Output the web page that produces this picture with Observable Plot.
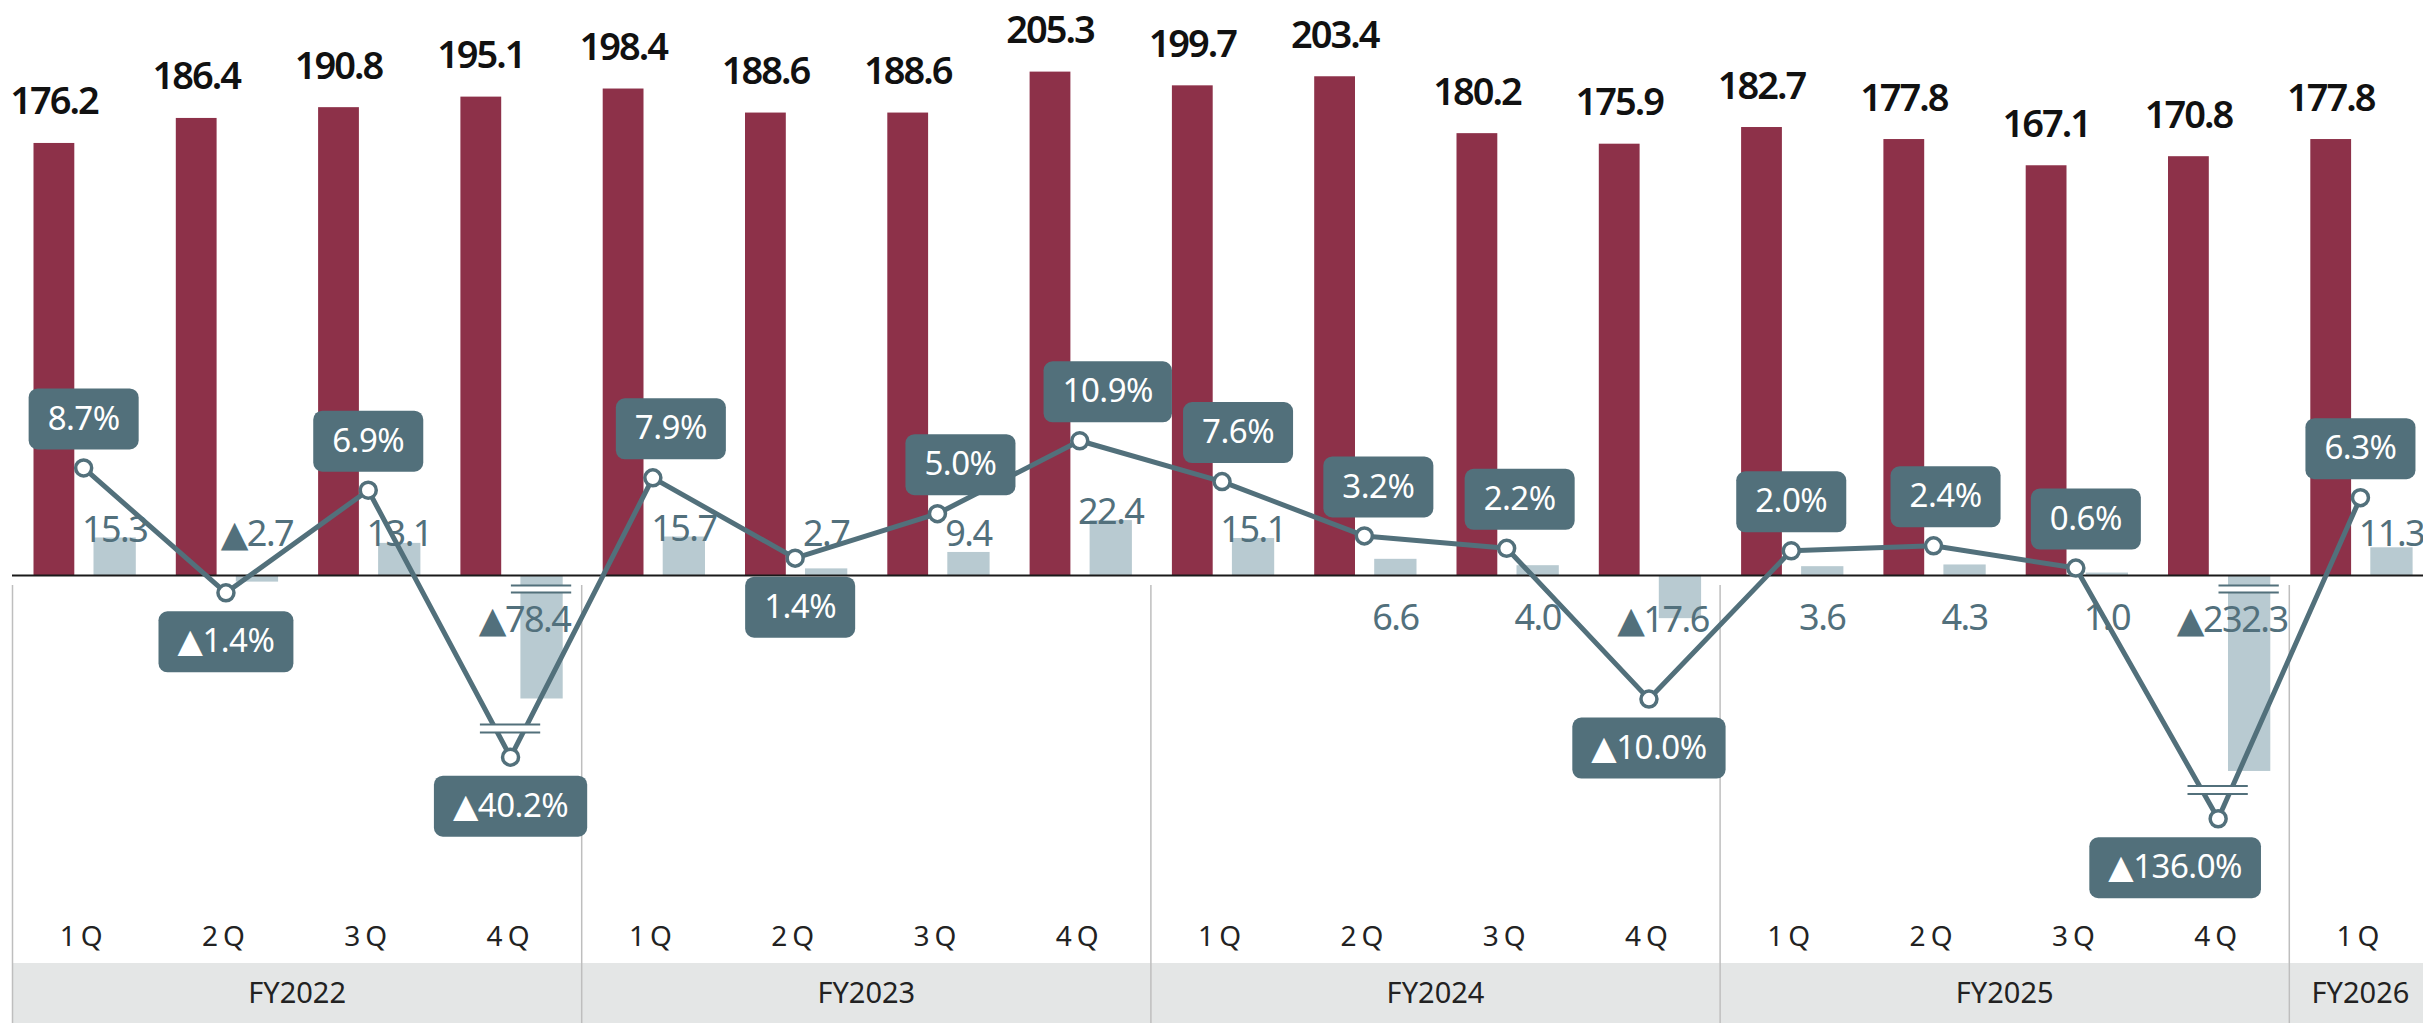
<!DOCTYPE html>
<html>
<head>
<meta charset="utf-8">
<script src="https://cdn.jsdelivr.net/npm/d3@7"></script>
<script src="https://cdn.jsdelivr.net/npm/@observablehq/plot@0.6"></script>
<style>
  html, body { margin: 0; padding: 0; background: #fff; }
  #chart { position: relative; width: 2423px; height: 1023px; overflow: hidden; }
  #chart svg { display: block; max-width: none; }
  #chart svg.overlay { position: absolute; left: 0; top: 0; }
</style>
</head>
<body>
<div id="chart"></div>
<script>
// ---------------- data ----------------
const fiscalYears = ["FY2022","FY2022","FY2022","FY2022","FY2023","FY2023","FY2023","FY2023",
                     "FY2024","FY2024","FY2024","FY2024","FY2025","FY2025","FY2025","FY2025","FY2026"];
const quarterLabels = ["1Q","2Q","3Q","4Q","1Q","2Q","3Q","4Q","1Q","2Q","3Q","4Q","1Q","2Q","3Q","4Q","1Q"];
const revenue = [176.2,186.4,190.8,195.1,198.4,188.6,188.6,205.3,199.7,203.4,180.2,175.9,182.7,177.8,167.1,170.8,177.8];
const operatingProfit = [15.3,-2.7,13.1,-78.4,15.7,2.7,9.4,22.4,15.1,6.6,4.0,-17.6,3.6,4.3,1.0,-232.3,11.3];
const operatingMargin = [8.7,-1.4,6.9,-40.2,7.9,1.4,5.0,10.9,7.6,3.2,2.2,-10.0,2.0,2.4,0.6,-136.0,6.3];
// where the operating-profit value label sits (above the bar / below the zero line)
const profitLabelSide = ["above","above","above","below","above","above","above","above",
                         "above","below","below","below","below","below","below","below","above"];

// ---------------- layout / styling ----------------
// horizontal nudge of the margin label boxes (in px) to keep them clear of the line
const marginBoxNudge = [0,0,0,0,18,5,23,28,16,14,13,0,0,12,10,-43,0];

const W = 2423, H_MAIN = 963, H_BAND = 60;
const RED = "#8D3149", GREY_BAR = "#B8CAD1", SLATE = "#52707B", SEP = "#BEBEBE", BAND = "#E4E6E6";
const INK = "#111111", OP_INK = "#52707c";
const FONT = "'Noto Sans', 'DejaVu Sans', sans-serif";

const rows = revenue.map((r, i) => ({
  i, fy: fiscalYears[i], q: quarterLabels[i], revenue: r,
  op: operatingProfit[i], margin: operatingMargin[i], side: profitLabelSide[i]
}));

// broken-axis compression for very large negative values
const OP_BREAK = -43.7, OP_SQUEEZE = 0.192;
const M_BREAK = -13.3, M_SQUEEZE = 0.052;
const squeeze = (v, b, k) => v >= b ? v : b + (v - b) * k;
const opShown = v => squeeze(v, OP_BREAK, OP_SQUEEZE);
const mShown = v => squeeze(v, M_BREAK, M_SQUEEZE);

const fmt = (v, suffix = "") => (v < 0 ? "▲" : "") + Math.abs(v).toFixed(1) + suffix;

const isLocalMin = d => {
  const prev = d.i > 0 ? operatingMargin[d.i - 1] : Infinity;
  const next = d.i < operatingMargin.length - 1 ? operatingMargin[d.i + 1] : Infinity;
  return d.margin < prev && d.margin < next;
};

const groups = d3.groups(rows, d => d.fy).map(([fy, rs]) => ({
  fy, first: rs[0].i, last: rs[rs.length - 1].i, mid: (rs[0].i + rs[rs.length - 1].i) / 2
}));

const SLOT = 142.3;
const xScale = {type: "linear", domain: [-0.5, 16.5], range: [12, 12 + SLOT * 17], axis: null};
const slotX1 = d => d.i - 0.5, slotX2 = d => d.i + 0.5;
const boxX = d => d.i + marginBoxNudge[d.i] / SLOT;

const brokenOP = rows.filter(d => d.op < OP_BREAK);
const brokenM = rows.filter(d => d.margin < M_BREAK);

// ---------------- main plot (bars) ----------------
const main = Plot.plot({
  width: W, height: H_MAIN, margin: 0,
  x: xScale,
  y: {domain: [0, 200], range: [575, 575 - 200 * 2.452], axis: null},
  style: {background: "white", fontFamily: FONT, overflow: "visible"},
  marks: [
    Plot.ruleX(groups, {x: d => d.first - 0.5, stroke: SEP, strokeWidth: 1.5, insetTop: 585}),
    Plot.rect(rows, {x1: slotX1, x2: slotX2, y1: 0, y2: "revenue", fill: RED, insetLeft: 21.5, insetRight: 80}),
    Plot.rect(rows, {x1: slotX1, x2: slotX2, y1: 0, y2: d => opShown(d.op), fill: GREY_BAR, insetLeft: 81.5, insetRight: 18.5}),
    Plot.ruleY([0], {x1: -0.5, x2: 16.5, stroke: "#1a1a1a", strokeWidth: 2}),
    // break marks on truncated bars
    Plot.rect(brokenOP, {x1: slotX1, x2: slotX2, y1: -4.1, y2: -6.9, fill: "white", insetLeft: 72, insetRight: 10}),
    Plot.ruleY(brokenOP, {x1: slotX1, x2: slotX2, y: () => -4.1, stroke: SLATE, strokeWidth: 2, insetLeft: 72, insetRight: 10}),
    Plot.ruleY(brokenOP, {x1: slotX1, x2: slotX2, y: () => -6.9, stroke: SLATE, strokeWidth: 2, insetLeft: 72, insetRight: 10}),
    // revenue labels
    Plot.text(rows, {x: "i", y: "revenue", text: d => d.revenue.toFixed(1), dx: -29.7, dy: -29,
      lineAnchor: "bottom", fontSize: 38, fontWeight: 600, fill: INK}),
    // operating profit labels
    Plot.text(rows.filter(d => d.side === "above"), {x: "i", y: d => Math.max(d.op - 1.6, 12.2),
      text: d => fmt(d.op), dx: 31, lineAnchor: "bottom", fontSize: 36, fill: OP_INK}),
    Plot.text(rows.filter(d => d.side === "below" && d.op >= 0), {x: "i", y: () => 0,
      text: d => fmt(d.op), dx: 31, dy: 54, lineAnchor: "bottom", fontSize: 36, fill: OP_INK}),
    Plot.text(rows.filter(d => d.side === "below" && d.op < 0), {x: "i", y: () => 0,
      text: d => fmt(d.op), dx: 14, dy: 56, lineAnchor: "bottom", fontSize: 36, fill: OP_INK}),
    // quarter labels
    Plot.text(rows, {x: "i", text: "q", frameAnchor: "bottom", dy: -26, lineAnchor: "middle", fontSize: 28, fill: "#222"})
  ]
});

// ---------------- overlay plot (margin line) ----------------
const overlay = Plot.plot({
  width: W, height: H_MAIN, margin: 0,
  x: xScale,
  y: {domain: [0, 10], range: [575, 575 - 123.6], axis: null},
  style: {background: "transparent", fontFamily: FONT, overflow: "visible"},
  marks: [
    Plot.line(rows, {x: "i", y: d => mShown(d.margin), stroke: SLATE, strokeWidth: 5}),
    Plot.rect(brokenM, {x1: slotX1, x2: slotX2, y1: d => mShown(d.margin) + 2.0, y2: d => mShown(d.margin) + 2.65,
      fill: "white", insetLeft: 41, insetRight: 41}),
    Plot.ruleY(brokenM, {x1: slotX1, x2: slotX2, y: d => mShown(d.margin) + 2.0, stroke: SLATE, strokeWidth: 2, insetLeft: 41, insetRight: 41}),
    Plot.ruleY(brokenM, {x1: slotX1, x2: slotX2, y: d => mShown(d.margin) + 2.65, stroke: SLATE, strokeWidth: 2, insetLeft: 41, insetRight: 41}),
    Plot.dot(rows, {x: "i", y: d => mShown(d.margin), r: 8, fill: "white", stroke: SLATE, strokeWidth: 3.5}),
    Plot.text(rows.filter(d => !isLocalMin(d)), {x: boxX, y: d => mShown(d.margin), text: d => fmt(d.margin, "%"),
      dy: -49, lineAnchor: "middle", fontSize: 33, fill: "white"}),
    Plot.text(rows.filter(d => isLocalMin(d)), {x: boxX, y: d => mShown(d.margin), text: d => fmt(d.margin, "%"),
      dy: 49, lineAnchor: "middle", fontSize: 33, fill: "white"})
  ]
});
overlay.classList.add("overlay");

// ---------------- fiscal-year band ----------------
const band = Plot.plot({
  width: W, height: H_BAND, margin: 0,
  x: xScale,
  style: {background: "white", fontFamily: FONT, overflow: "visible"},
  marks: [
    Plot.rect(groups, {x1: d => d.first - 0.5, x2: d => d.last + 0.5, fill: BAND}),
    Plot.ruleX(groups, {x: d => d.first - 0.5, stroke: SEP, strokeWidth: 1.5}),
    Plot.text(groups, {x: "mid", text: "fy", fontSize: 29, fill: "#222"})
  ]
});

const chart = document.getElementById("chart");
chart.appendChild(main);
chart.appendChild(band);
chart.appendChild(overlay);

// letter spacing tweaks (condensed look of the original typeface)
main.querySelectorAll("text").forEach(t => {
  if (/^\dQ$/.test(t.textContent)) t.style.letterSpacing = "5px";
});
main.querySelectorAll('g[aria-label="text"]').forEach(g => {
  const f = (g.getAttribute("fill") || "").toLowerCase();
  if (f === INK) g.style.letterSpacing = "-2px";
  if (f === OP_INK) g.style.letterSpacing = "-1.5px";
});

// rounded label boxes behind margin labels
overlay.querySelectorAll('g[aria-label="text"]').forEach(g => {
  g.style.letterSpacing = "-0.5px";
  g.querySelectorAll("text").forEach(t => {
    const b = t.getBBox();
    const padX = 19, h = 61;
    const r = document.createElementNS("http://www.w3.org/2000/svg", "rect");
    const tr = t.getAttribute("transform");
    let anchorY = 0;
    if (!tr) { const ya = t.getAttribute("y"); if (ya && !/em$/.test(ya)) anchorY = parseFloat(ya); }
    r.setAttribute("x", b.x - padX);
    r.setAttribute("width", b.width + 2 * padX);
    r.setAttribute("y", anchorY - h / 2);
    r.setAttribute("height", h);
    r.setAttribute("rx", 9);
    r.setAttribute("fill", SLATE);
    if (tr) r.setAttribute("transform", tr);
    g.insertBefore(r, t);
  });
});
</script>
</body>
</html>
